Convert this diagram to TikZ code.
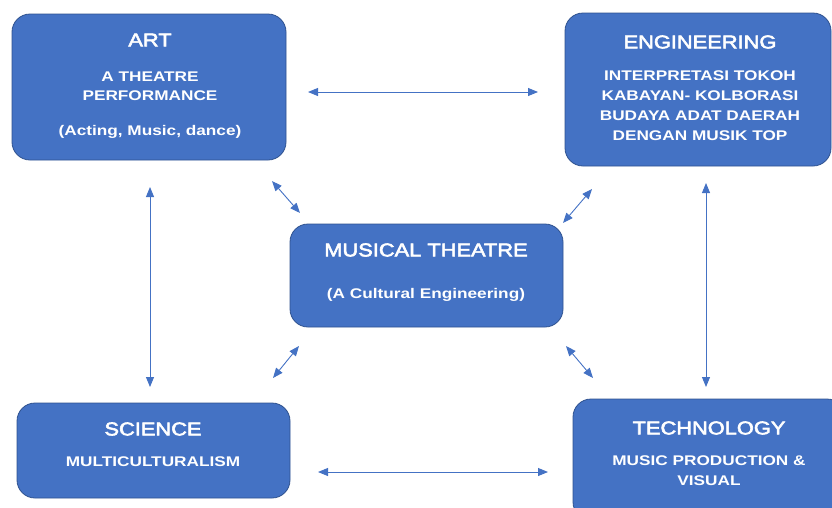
\documentclass[tikz,border=0pt]{standalone}
\usepackage{fontspec}
\setmainfont{Liberation Sans}
\newfontfamily\bxf[FakeStretch=1.23]{Liberation Sans}
\newfontfamily\ttf[FakeStretch=1.18]{Liberation Sans}
\newcommand\heavytxt[1]{\special{pdf:literal direct 1 1 1 RG 2 Tr 0.55 w}#1\special{pdf:literal direct 0 Tr}}
\usetikzlibrary{arrows.meta}
\definecolor{boxfill}{HTML}{4472C4}
\definecolor{boxline}{HTML}{2F528F}
\definecolor{arrcol}{HTML}{4472C4}
\begin{document}
\begin{tikzpicture}[x=1pt,y=-1pt,
 box/.style={draw=boxline, fill=boxfill, line width=0.8pt, rounded corners=18pt, inner sep=0pt},
 ttl/.style={text=white, font=\ttf\fontsize{18.5}{22}\selectfont, inner sep=0pt},
 sub/.style={text=white, font=\bxf\bfseries\fontsize{14}{20}\selectfont, inner sep=0pt, align=center},
 arr/.style={draw=arrcol, line width=0.9pt, {Triangle[length=10pt,width=8pt]}-{Triangle[length=10pt,width=8pt]}}]
\useasboundingbox (0,0) rectangle (832,507);
\clip (0,0) rectangle (832,507);
% boxes
\node[box, minimum width=274pt, minimum height=146pt] (art) at (149,87) {};
\node[box, minimum width=266pt, minimum height=153pt] (eng) at (698,89.5) {};
\node[box, minimum width=273pt, minimum height=103pt] (mt) at (426.5,275.5) {};
\node[box, minimum width=273pt, minimum height=95pt] (sci) at (153.5,450.5) {};
\node[box, minimum width=272pt, minimum height=121pt] (tech) at (709,459.5) {};
% texts
\node[ttl] (artT) at (150,40) {\heavytxt{ART}};
\node[sub, font=\bxf\bfseries\fontsize{14}{19}\selectfont] (artS) at (150,86.5) {A THEATRE\\PERFORMANCE};
\node[sub] (artS2) at (150,132) {(Acting, Music, dance)};
\node[ttl] (engT) at (700,42) {\heavytxt{ENGINEERING}};
\node[sub] (engS) at (700,106) {INTERPRETASI TOKOH\\KABAYAN- KOLBORASI\\BUDAYA ADAT DAERAH\\DENGAN MUSIK TOP};
\node[ttl] (mtT) at (426,250) {\heavytxt{MUSICAL THEATRE}};
\node[sub] (mtS) at (426,295) {(A Cultural Engineering)};
\node[ttl] (sciT) at (153,429) {\heavytxt{SCIENCE}};
\node[sub] (sciS) at (153,462) {MULTICULTURALISM};
\node[ttl] (techT) at (709,428) {\heavytxt{TECHNOLOGY}};
\node[sub] (techS) at (709,471) {MUSIC PRODUCTION \&\\VISUAL};
% arrow end points
\coordinate (a1) at (308,92);  \coordinate (a2) at (538,92);
\coordinate (b1) at (150,187); \coordinate (b2) at (150,387);
\coordinate (c1) at (706,183); \coordinate (c2) at (706,387);
\coordinate (d1) at (318,472); \coordinate (d2) at (548,472);
\coordinate (e1) at (272,181); \coordinate (e2) at (300,213);
\coordinate (f1) at (592,189); \coordinate (f2) at (563,223);
\coordinate (g1) at (299,346); \coordinate (g2) at (273,378);
\coordinate (h1) at (566,346); \coordinate (h2) at (593,378);
\draw[arr] (a1) -- (a2);
\draw[arr] (b1) -- (b2);
\draw[arr] (c1) -- (c2);
\draw[arr] (d1) -- (d2);
\draw[arr] (e1) -- (e2);
\draw[arr] (f1) -- (f2);
\draw[arr] (g1) -- (g2);
\draw[arr] (h1) -- (h2);
\end{tikzpicture}
\end{document}
